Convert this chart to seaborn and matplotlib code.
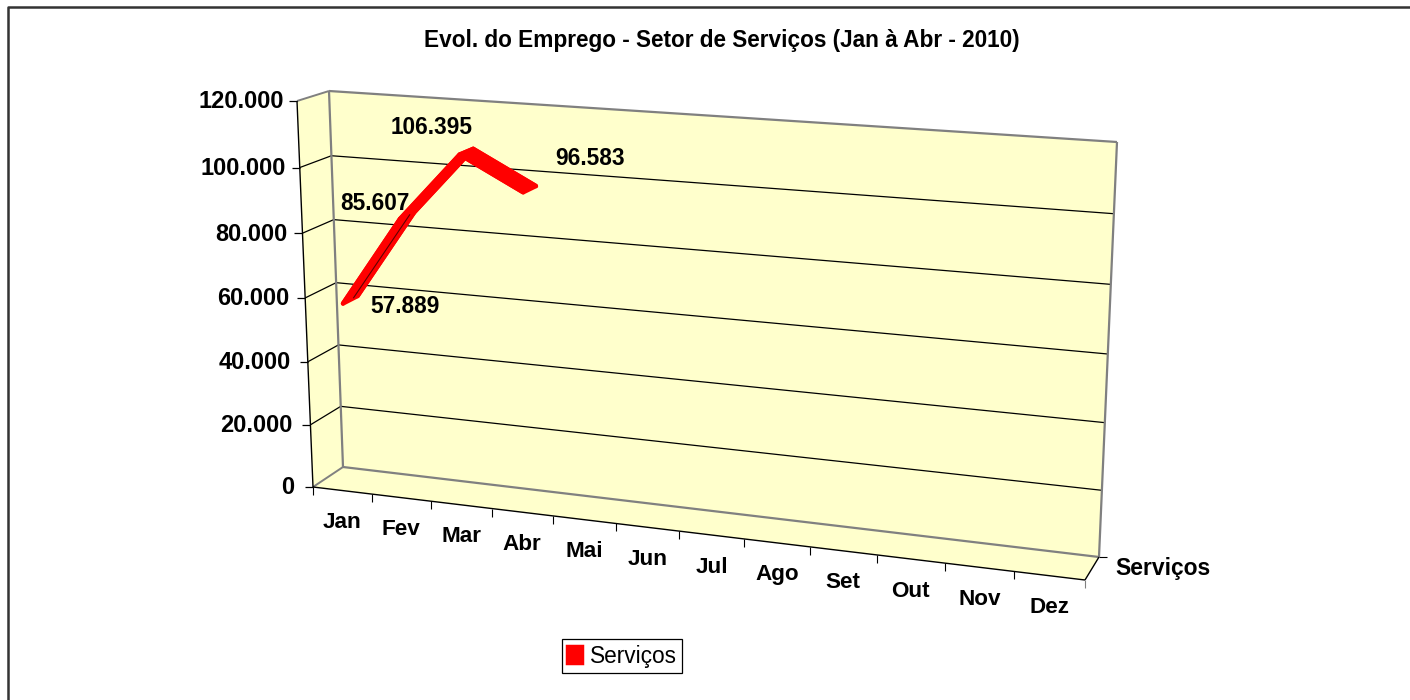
import numpy as np
import pandas as pd
import matplotlib
matplotlib.use("Agg")
import matplotlib.pyplot as plt
from matplotlib.patches import Patch, Polygon
import seaborn as sns

# ---- data ----
months = ["Jan", "Fev", "Mar", "Abr", "Mai", "Jun", "Jul", "Ago", "Set", "Out", "Nov", "Dez"]
values = [57889, 85607, 106395, 96583]
value_labels = ["57.889", "85.607", "106.395", "96.583"]
y_ticks = [0, 20000, 40000, 60000, 80000, 100000, 120000]
y_tick_labels = ["0", "20.000", "40.000", "60.000", "80.000", "100.000", "120.000"]
series_name = "Serviços"
title = "Evol. do Emprego - Setor de Serviços (Jan à Abr - 2010)"

# ---- 3D box layout on the canvas (pixels) ----
BACK = [(343, 467), (1099, 557), (1117, 142), (329, 91)]    # BL, BR, TR, TL
FRONT = [(313, 487), (1085, 580), (1103, 155), (297, 101)]
YMAX = 120000.0
RIBBON = (0.26, 0.74)          # depth range of the line ribbon (0 front, 1 back)
LABEL_OFFSETS = [(55, 7), (-32, -12), (-35, -24), (61, -31)]


def homography(pts):
    src = [(0, 0), (1, 0), (1, 1), (0, 1)]
    A, b = [], []
    for (u, v), (x, y) in zip(src, pts):
        A.append([u, v, 1, 0, 0, 0, -u * x, -v * x]); b.append(x)
        A.append([0, 0, 0, u, v, 1, -u * y, -v * y]); b.append(y)
    h = np.linalg.solve(np.array(A, float), np.array(b, float))
    return np.append(h, 1).reshape(3, 3)


H_BACK, H_FRONT = homography(BACK), homography(FRONT)


def apply_h(H, u, v):
    p = H @ np.array([u, v, 1.0])
    return p[:2] / p[2]


def proj(t, val, depth=0.0):
    """category position t (0..12), value, depth (0 front .. 1 back) -> canvas px"""
    u, v = t / len(months), val / YMAX
    return (1 - depth) * apply_h(H_FRONT, u, v) + depth * apply_h(H_BACK, u, v)


sns.set_theme(style="white")
plt.rcParams["font.family"] = ["Liberation Sans", "DejaVu Sans"]
fig = plt.figure(figsize=(14.1, 7.0), dpi=100, facecolor="white")
ax = fig.add_axes([0, 0, 1, 1])
ax.set_xlim(0, 1410)
ax.set_ylim(700, 0)
ax.axis("off")

WALL = "#FFFFCC"
GRAY = "#808080"
BLACK = "#000000"
N = len(months)


def seg(a, b, color=BLACK, lw=1.0, z=3):
    ax.plot([a[0], b[0]], [a[1], b[1]], color=color, lw=lw, zorder=z, solid_capstyle="butt")


# outer chart frame
ax.plot([1410, 8, 8], [7, 7, 700], color="#333333", lw=1.8, zorder=1)

# walls
for quad in (
    [proj(0, 0, 1), proj(N, 0, 1), proj(N, YMAX, 1), proj(0, YMAX, 1)],
    [proj(0, 0, 0), proj(0, 0, 1), proj(0, YMAX, 1), proj(0, YMAX, 0)],
    [proj(0, 0, 0), proj(N, 0, 0), proj(N, 0, 1), proj(0, 0, 1)],
):
    ax.add_patch(Polygon(quad, closed=True, facecolor=WALL, edgecolor="none", zorder=2))

# gridlines
for tk in y_ticks[1:-1]:
    seg(proj(0, tk, 1), proj(N, tk, 1), lw=0.9)
for tk in y_ticks[1:]:
    seg(proj(0, tk, 0), proj(0, tk, 1), color=(BLACK if tk < YMAX else GRAY), lw=0.9 if tk < YMAX else 1.4)

# wall edges
seg(proj(0, YMAX, 1), proj(N, YMAX, 1), GRAY, 1.6)
seg(proj(N, YMAX, 1), proj(N, 0, 1), GRAY, 1.6)
seg(proj(0, YMAX, 1), proj(0, 0, 1), GRAY, 1.6)
seg(proj(0, 0, 1), proj(N, 0, 1), GRAY, 1.6)
seg(proj(0, 0, 0), proj(0, 0, 1), GRAY, 1.4)

# axes
seg(proj(0, 0, 0), proj(0, YMAX, 0), lw=1.0, z=4)
seg(proj(0, 0, 0), proj(N, 0, 0), lw=1.0, z=4)
seg(proj(N, 0, 0), proj(N, 0, 1), lw=1.0, z=4)
bk = proj(N, 0, 1)
seg(bk, bk + np.array([8, 0]), lw=0.8, z=4)
for tk, lab in zip(y_ticks, y_tick_labels):
    p = proj(0, tk, 0)
    seg(p, p + np.array([-8, 0]), lw=0.9, z=4)
    ax.text(284 + (p[0] - 297) * 0.65, p[1] + 1, lab, ha="right", va="center", fontsize=17.0,
            fontweight="bold", color="black")
for i in range(N + 1):
    p = proj(i, 0, 0)
    seg(p, p + np.array([0, 8]), GRAY if i == N else BLACK, 0.8, z=4)
for i, m in enumerate(months):
    p = proj(i + 0.5, 0, 0)
    ax.text(p[0], p[1] + 32, m, ha="center", va="center", fontsize=16.2, fontweight="bold", color="black")

ax.text(1115, 569, series_name, ha="left", va="center", fontsize=16.5, fontweight="bold", color="black")

# ribbon
xs = np.arange(len(values)) + 0.5
rows = []
for d, name in ((RIBBON[0], "front"), (RIBBON[1], "back")):
    for x, v in zip(xs, values):
        q = proj(x, v, d)
        rows.append({"px": q[0], "py": q[1], "edge": name})
edges = pd.DataFrame(rows)
sns.lineplot(data=edges, x="px", y="py", units="edge", estimator=None, sort=False,
             color="#FF0000", lw=3.2, ax=ax, legend=False, zorder=5,
             solid_joinstyle="round", solid_capstyle="round")
for i in range(len(values) - 1):
    quad = [proj(xs[i], values[i], RIBBON[0]), proj(xs[i + 1], values[i + 1], RIBBON[0]),
            proj(xs[i + 1], values[i + 1], RIBBON[1]), proj(xs[i], values[i], RIBBON[1])]
    ax.add_patch(Polygon(quad, closed=True, facecolor="#FF0000", edgecolor="#FF0000", lw=3.2,
                         joinstyle="round", zorder=5))
# dark sliver along the first ribbon segment
seg(proj(xs[0], values[0], 0.6), proj(xs[1], values[1], 0.6), "#600000", 0.8, z=6)

# value labels
for x, v, lab, off in zip(xs, values, value_labels, LABEL_OFFSETS):
    q = proj(x, v, 0.5)
    ax.text(q[0] + off[0], q[1] + off[1], lab, ha="center", va="center", fontsize=16.3,
            fontweight="bold", color="black", zorder=7)

fig.text(722 / 1410, 1 - 40 / 700, title, ha="center", va="center", fontsize=16.3, fontweight="bold", color="black")

leg = ax.legend(handles=[Patch(facecolor="#FF0000", edgecolor="#FF0000", linewidth=2.5, joinstyle="round",
                               label=series_name)],
                loc="center", bbox_to_anchor=(622 / 1410, 1 - 656 / 700), bbox_transform=fig.transFigure,
                frameon=True, fancybox=False, framealpha=1, edgecolor="black", labelcolor="black",
                prop={"size": 16.3}, handlelength=0.65, handleheight=0.75, handletextpad=0.35,
                borderpad=0.25, borderaxespad=0)
leg.get_frame().set_linewidth(0.9)

fig.savefig("out.png", dpi=100)
